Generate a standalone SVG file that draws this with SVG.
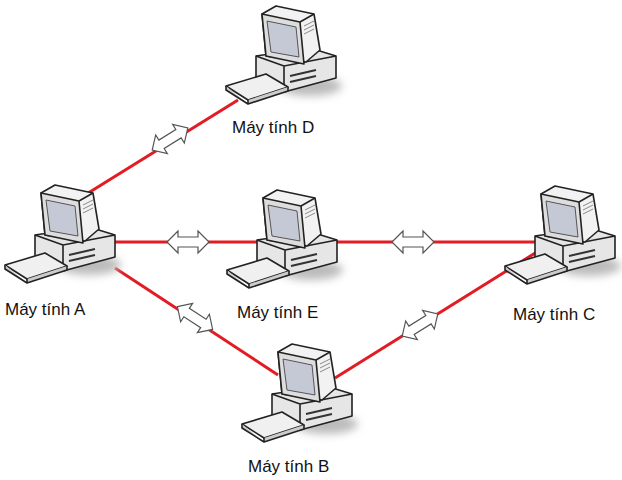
<svg xmlns="http://www.w3.org/2000/svg" width="622" height="480" viewBox="0 0 622 480">
<style>
.ln{stroke:#e31b23;stroke-width:3;fill:none}
.ar{fill:#fff;stroke:#555;stroke-width:1.2}
.lb{font-family:"Liberation Sans",Arial,sans-serif;font-size:17px;fill:#111}
.o{stroke:#222;stroke-width:1.6;stroke-linejoin:round}
</style>
<defs>
<filter id="bl" x="-50%" y="-50%" width="200%" height="200%"><feGaussianBlur stdDeviation="4"/></filter>
<g id="pc">
<ellipse cx="84" cy="80" rx="32" ry="10" fill="#bbb" filter="url(#bl)"/>
<path class="o" d="M30,50 L84,42 L110,50 L110,72 L58,86 L30,72 Z" fill="#e6e6e6"/>
<path class="o" d="M30,50 L58,60 L110,50 M58,60 L58,86" fill="none"/>
<path d="M64,70 L90,64 M64,76 L90,70" stroke="#333" stroke-width="2"/>
<path class="o" d="M36,8 L50,0 L88,8 L94,44 L80,56 L40,50 Z" fill="#f2f2f2"/>
<path class="o" d="M36,8 L74,16 L78,58 L40,50 Z" fill="#ddd"/>
<path d="M74,16 L88,8" class="o" fill="none"/>
<path d="M41,15 L70,21 L73,51 L45,46 Z" fill="#c5c9d6" stroke="#555"/>
<path d="M78,20 L88,15 M78,24 L88,19 M78,28 L88,23" stroke="#888" stroke-width="1"/>
<path class="o" d="M0,80 L40,68 L62,81 L22,94 Z" fill="#f0f0f0"/>
<path class="o" d="M22,94 L22,98 L62,85 L62,81 M0,80 L0,84 L22,98" fill="#ccc"/>
</g>
<path id="ar" class="ar" d="M-21,0 L-10,-11 L-10,-5 L10,-5 L10,-11 L21,0 L10,11 L10,5 L-10,5 L-10,11 Z"/>
</defs>
<g id="connectors">
<line class="ln" x1="85" y1="195" x2="238" y2="100"/>
<line class="ln" x1="115" y1="242" x2="258" y2="242"/>
<line class="ln" x1="335" y1="242" x2="540" y2="242"/>
<line class="ln" x1="115" y1="268" x2="278" y2="375"/>
<line class="ln" x1="335" y1="378" x2="540" y2="250"/>
<use href="#ar" transform="translate(170,139) rotate(-32)"/>
<use href="#ar" transform="translate(188,242)"/>
<use href="#ar" transform="translate(413,242)"/>
<use href="#ar" transform="translate(195,318) rotate(33)"/>
<use href="#ar" transform="translate(420,325) rotate(-32)"/>
</g>
<g id="nodeD"><use href="#pc" transform="translate(226,6)"/><text class="lb" x="232" y="133">Máy tính D</text></g>
<g id="nodeA"><use href="#pc" transform="translate(5,185)"/><text class="lb" x="5" y="315">Máy tính A</text></g>
<g id="nodeE"><use href="#pc" transform="translate(227,190)"/><text class="lb" x="237" y="318">Máy tính E</text></g>
<g id="nodeC"><use href="#pc" transform="translate(505,186)"/><text class="lb" x="513" y="320">Máy tính C</text></g>
<g id="nodeB"><use href="#pc" transform="translate(242,344)"/><text class="lb" x="248" y="472">Máy tính B</text></g>
</svg>
